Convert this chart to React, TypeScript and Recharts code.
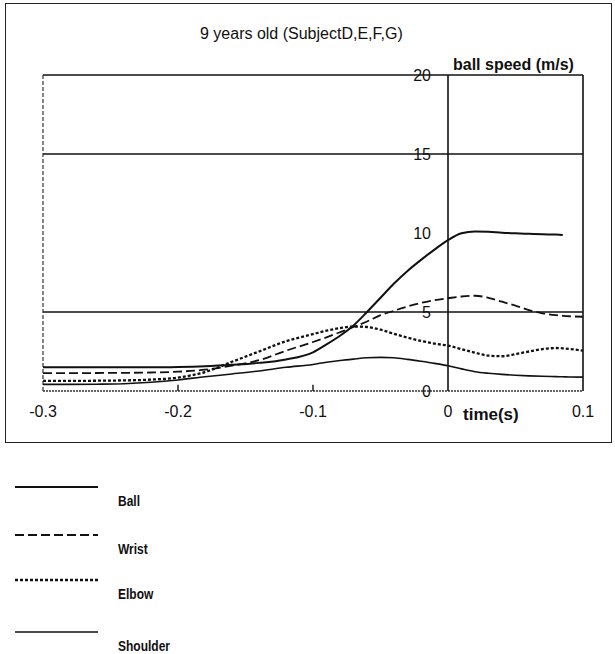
import { LineChart, Line, XAxis, YAxis, ReferenceLine, ReferenceDot } from 'recharts';

const times = [
  -0.3, -0.28, -0.26, -0.24, -0.22, -0.2, -0.18, -0.16, -0.14, -0.12, -0.1, -0.09, -0.08, -0.07, -0.06, -0.05,
  -0.04, -0.03, -0.02, -0.01, 0, 0.01, 0.02, 0.03, 0.04, 0.05, 0.06, 0.07, 0.08, 0.085, 0.09, 0.1,
];
const ball = [
  1.5, 1.5, 1.5, 1.5, 1.5, 1.52, 1.57, 1.66, 1.78, 2.0, 2.45, 2.95, 3.5, 4.15, 5.0, 5.9,
  6.8, 7.6, 8.3, 8.95, 9.55, 9.98, 10.1, 10.08, 10.02, 9.98, 9.95, 9.92, 9.9, 9.88, null, null,
];
const wrist = [
  1.13, 1.13, 1.14, 1.15, 1.17, 1.22, 1.35, 1.6, 1.95, 2.55, 3.1, 3.4, 3.72, 4.05, 4.4, 4.8,
  5.08, 5.35, 5.58, 5.75, 5.87, 5.98, 6.03, 5.9, 5.65, 5.4, 5.12, 4.92, 4.8, 4.76, 4.73, 4.7,
];
const elbow = [
  0.64, 0.64, 0.65, 0.67, 0.72, 0.85, 1.2, 1.85, 2.5, 3.15, 3.6, 3.82, 3.98, 4.08, 4.05, 3.88,
  3.62, 3.38, 3.17, 3.0, 2.87, 2.65, 2.42, 2.24, 2.2, 2.33, 2.5, 2.65, 2.72, 2.7, 2.66, 2.55,
];
const shoulder = [
  0.42, 0.42, 0.43, 0.46, 0.55, 0.7, 0.9, 1.08, 1.27, 1.5, 1.68, 1.82, 1.93, 2.02, 2.1, 2.13,
  2.1, 2.0, 1.88, 1.75, 1.6, 1.4, 1.22, 1.12, 1.05, 1.0, 0.96, 0.93, 0.91, 0.9, 0.89, 0.88,
];

const xTicks = [-0.3, -0.2, -0.1, 0, 0.1];
const yTicks = [0, 5, 10, 15, 20];
const gridValues = [5, 15];
const minorXTicks = [-0.2, -0.1];

const seriesNames = ['Ball', 'Wrist', 'Elbow', 'Shoulder'];
const seriesKeys = ['ball', 'wrist', 'elbow', 'shoulder'];
const seriesStyle: Record<string, { width: number; dash?: string }> = {
  ball: { width: 2 },
  wrist: { width: 1.8, dash: '9 4' },
  elbow: { width: 2.3, dash: '3 2' },
  shoulder: { width: 1.6 },
};

const rows = times.map((t, i) => ({
  t,
  ball: ball[i],
  wrist: wrist[i],
  elbow: elbow[i],
  shoulder: shoulder[i],
}));

const ink = '#111';
const font = "'Liberation Sans', Arial, sans-serif";

export default function App() {
  return (
    <div style={{ position: 'absolute', left: 0, top: 0, width: 615, height: 654, background: '#fff', fontFamily: font, color: ink }}>
      <div style={{ position: 'absolute', left: 5, top: 3, width: 605, height: 438, border: '1.5px solid #222' }} />
      <div style={{ position: 'absolute', left: 0, top: 0 }}>
        <LineChart
          width={615}
          height={445}
          data={rows}
          margin={{ top: 75, right: 32, bottom: 24, left: 43 }}
          style={{ fontFamily: font }}
        >
          <XAxis
            dataKey="t"
            type="number"
            domain={[-0.3, 0.1]}
            ticks={xTicks}
            interval={0}
            axisLine={false}
            tickLine={false}
            tickMargin={9}
            height={30}
            tick={{ fontSize: 16, fill: ink }}
            tickFormatter={(v: number) => (v === 0 ? '0' : v.toFixed(1))}
          />
          <YAxis hide type="number" domain={[0, 20]} />
          {gridValues.map((v) => (
            <ReferenceLine key={'g' + v} y={v} stroke={ink} strokeWidth={1.6} />
          ))}
          <ReferenceLine y={20} stroke={ink} strokeWidth={1.6} />
          <ReferenceLine y={0} stroke="#333" strokeWidth={1.3} strokeDasharray="2 1" />
          <ReferenceLine x={-0.3} stroke="#333" strokeWidth={1.2} strokeDasharray="4 2" />
          <ReferenceLine x={0.1} stroke={ink} strokeWidth={1.6} />
          <ReferenceLine x={0} stroke={ink} strokeWidth={1.6} />
          {minorXTicks.map((v) => (
            <ReferenceLine
              key={'m' + v}
              segment={[{ x: v, y: 0 }, { x: v, y: 0.4 }]}
              stroke={ink}
              strokeWidth={1.4}
            />
          ))}
          {yTicks.map((v) => (
            <ReferenceDot
              key={'y' + v}
              x={0}
              y={v}
              r={0}
              fill="none"
              stroke="none"
              label={{ value: String(v), position: 'left', offset: 17, fontSize: 16, fill: ink }}
            />
          ))}
          {seriesKeys.map((k) => (
            <Line
              key={k}
              dataKey={k}
              type="monotone"
              stroke={ink}
              strokeWidth={seriesStyle[k].width}
              strokeDasharray={seriesStyle[k].dash}
              dot={false}
              activeDot={false}
              isAnimationActive={false}
            />
          ))}
        </LineChart>
      </div>
      <div style={{ position: 'absolute', left: 200, top: 25, fontSize: 16, whiteSpace: 'nowrap' }}>
        9 years old (SubjectD,E,F,G)
      </div>
      <div style={{ position: 'absolute', left: 453, top: 56, fontSize: 16, fontWeight: 'bold', whiteSpace: 'nowrap' }}>
        ball speed (m/s)
      </div>
      <div style={{ position: 'absolute', left: 463, top: 405, fontSize: 17, fontWeight: 'bold', whiteSpace: 'nowrap' }}>
        time(s)
      </div>
      <svg style={{ position: 'absolute', left: 0, top: 470 }} width={200} height={184}>
        {seriesKeys.map((k, i) => {
          const y = [17, 65, 110, 162][i];
          return (
            <g key={k}>
              <line
                x1={15}
                x2={98}
                y1={y}
                y2={y}
                stroke={ink}
                strokeWidth={seriesStyle[k].width}
                strokeDasharray={seriesStyle[k].dash}
              />
              <text
                transform={`translate(118 ${y + 15}) scale(0.8 1)`}
                dominantBaseline="middle"
                fontSize={15}
                fontWeight="bold"
                fill={ink}
              >
                {seriesNames[i]}
              </text>
            </g>
          );
        })}
      </svg>
    </div>
  );
}
